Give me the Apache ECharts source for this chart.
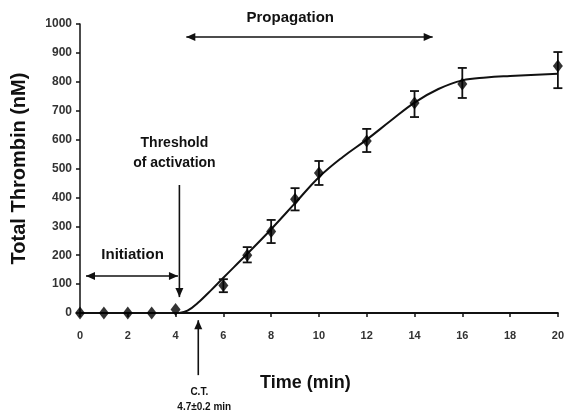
<!DOCTYPE html>
<html><head><meta charset="utf-8">
<script src="https://cdn.jsdelivr.net/npm/echarts@6/dist/echarts.min.js"></script>
<style>html,body{margin:0;padding:0;background:#fff}#c{width:567px;height:412px}</style>
</head><body><div id="c"></div>
<script>
// Measured data (time in min, thrombin in nM)
const times    = [0, 1, 2, 3, 4, 6, 7, 8, 9, 10, 12, 14, 16, 20];
const means    = [0, 0, 0, 0, 12, 95, 200, 282, 394, 484, 595, 727, 792, 855];
const errLow   = [0, 0, 0, 0, 12, 72, 175, 242, 355, 443, 557, 678, 744, 778];
const errHigh  = [0, 0, 0, 0, 12, 117, 228, 322, 432, 526, 637, 768, 848, 903];
// Fitted curve
const fitTimes  = [4.15, 4.5, 5, 5.5, 6, 7, 8, 9, 10, 11, 12, 13, 14, 15, 16, 17, 18, 20];
const fitValues = [0, 8, 40, 80, 122, 205, 290, 380, 470, 540, 600, 665, 728, 775, 805, 815, 820, 828];
const xTicks = [0, 2, 4, 6, 8, 10, 12, 14, 16, 18, 20];
const yTicks = [0, 100, 200, 300, 400, 500, 600, 700, 800, 900, 1000];

const FONT = '"Liberation Sans", Arial, sans-serif';
const chart = echarts.init(document.getElementById('c'), null, {renderer: 'canvas'});

const option = {
  animation: false,
  backgroundColor: '#fff',
  grid: {left: 80, right: 4, top: 24, bottom: 99},
  xAxis: {
    type: 'value', min: xTicks[0], max: xTicks[xTicks.length - 1], interval: 2,
    name: 'Time (min)', nameLocation: 'middle', nameGap: 61,
    nameTextStyle: {fontFamily: FONT, fontWeight: 'bold', fontSize: 18, color: '#111', padding: [0, 27, 0, 0]},
    axisLine: {lineStyle: {color: '#111', width: 2}},
    axisTick: {show: true, inside: false, length: 4, lineStyle: {color: '#111', width: 1.5}},
    axisLabel: {fontFamily: FONT, fontWeight: 'bold', fontSize: 11, color: '#333', margin: 17,
      formatter: v => String(v)},
    splitLine: {show: false}
  },
  yAxis: {
    type: 'value', min: yTicks[0], max: yTicks[yTicks.length - 1], interval: 100,
    name: 'Total Thrombin (nM)', nameLocation: 'middle', nameGap: 51, nameRotate: 90,
    nameTextStyle: {fontFamily: FONT, fontWeight: 'bold', fontSize: 20, color: '#111'},
    axisLine: {show: true, lineStyle: {color: '#111', width: 1.5}},
    axisTick: {show: true, inside: false, length: 4, lineStyle: {color: '#111', width: 1.5}},
    axisLabel: {fontFamily: FONT, fontWeight: 'bold', fontSize: 12, color: '#333', margin: 8,
      formatter: v => String(v)},
    splitLine: {show: false}
  },
  series: [
    {
      type: 'line', name: 'fit', smooth: 0.4, showSymbol: false, symbol: 'none',
      data: fitTimes.map((t, i) => [t, fitValues[i]]),
      lineStyle: {color: '#111', width: 2}, z: 2
    },
    {
      type: 'custom', name: 'err',
      data: times.map((t, i) => [t, errLow[i], errHigh[i]]),
      renderItem: function (params, api) {
        const lo = api.coord([api.value(0), api.value(1)]);
        const hi = api.coord([api.value(0), api.value(2)]);
        if (Math.abs(hi[1] - lo[1]) < 2) return null;
        const w = 4.5;
        const st = {stroke: '#111', lineWidth: 1.8};
        return {type: 'group', children: [
          {type: 'line', shape: {x1: lo[0], y1: lo[1], x2: hi[0], y2: hi[1]}, style: st},
          {type: 'line', shape: {x1: lo[0] - w, y1: lo[1], x2: lo[0] + w, y2: lo[1]}, style: st},
          {type: 'line', shape: {x1: hi[0] - w, y1: hi[1], x2: hi[0] + w, y2: hi[1]}, style: st}
        ]};
      }, z: 3
    },
    {
      type: 'scatter', name: 'mean', symbol: 'diamond', symbolSize: [10, 13],
      data: times.map((t, i) => [t, means[i]]),
      itemStyle: {color: '#000'}, z: 4
    }
  ]
};
chart.setOption(option);

function px(x, y) { return chart.convertToPixel({gridIndex: 0}, [x, y]); }
function arrowHead(tip, dx, dy) {
  const L = 9, W = 4;
  const bx = tip[0] - dx * L, by = tip[1] - dy * L;
  const nx = -dy, ny = dx;
  return {type: 'polygon', shape: {points: [[tip[0], tip[1]], [bx + nx * W, by + ny * W], [bx - nx * W, by - ny * W]]}, style: {fill: '#111'}};
}
function hArrow(x1, x2, y, both) {
  const a = px(x1, y), b = px(x2, y);
  const els = [{type: 'line', shape: {x1: a[0], y1: a[1], x2: b[0], y2: b[1]}, style: {stroke: '#111', lineWidth: 1.6}}];
  els.push(arrowHead(b, 1, 0));
  if (both) els.push(arrowHead(a, -1, 0));
  return els;
}
function txt(x, y, s, size, lh) {
  return {type: 'text', x: x, y: y, style: {text: s, fontFamily: FONT, fontWeight: 'bold', fontSize: size, fill: '#111', align: 'center', verticalAlign: 'middle', lineHeight: lh || (size + 5)}};
}

const g = [];
// Propagation
g.push(...hArrow(4.45, 14.76, 955, true));
const pp = px(8.8, 1020);
g.push(txt(pp[0], 18, 'Propagation', 15));
// Initiation
g.push(...hArrow(0.25, 4.1, 128, true));
const ip = px(2.2, 200);
g.push(txt(ip[0], 255, 'Initiation', 15));
// Threshold of activation
const t1 = px(4.16, 443), t2 = px(4.16, 55);
g.push({type: 'line', shape: {x1: t1[0], y1: t1[1], x2: t2[0], y2: t2[1]}, style: {stroke: '#111', lineWidth: 1.6}});
g.push(arrowHead(t2, 0, 1));
g.push(txt(t1[0] - 5, 153, 'Threshold\nof activation', 14, 20));
// C.T. arrow below axis
const c1 = px(4.95, -215), c2 = px(4.95, -25);
g.push({type: 'line', shape: {x1: c1[0], y1: c1[1], x2: c2[0], y2: c2[1]}, style: {stroke: '#111', lineWidth: 1.6}});
g.push(arrowHead(c2, 0, -1));
g.push(txt(c1[0] + 1, 392, 'C.T.', 10));
g.push(txt(c1[0] + 6, 407, '4.7±0.2 min', 10));
chart.setOption({graphic: g});
</script>
</body></html>
